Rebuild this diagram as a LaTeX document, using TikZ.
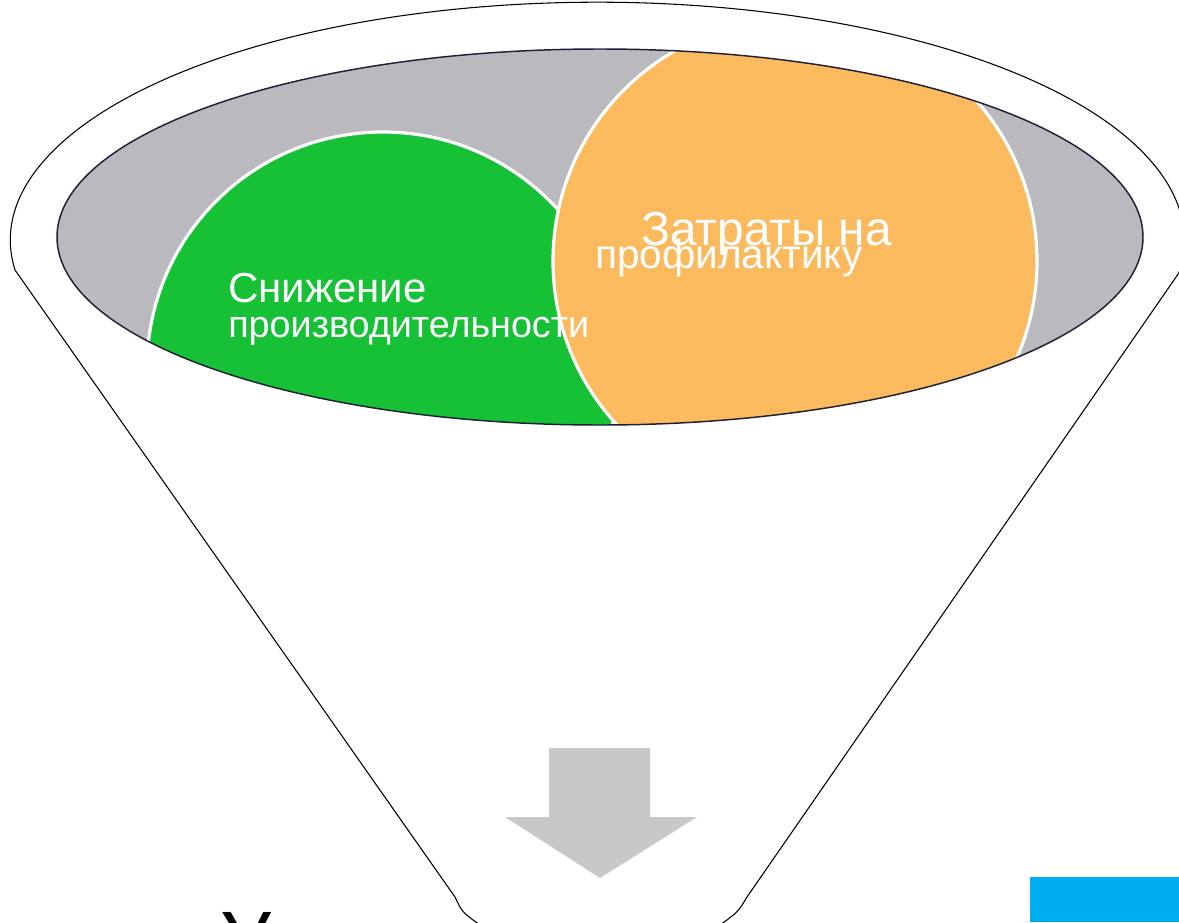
\documentclass[tikz,border=0pt]{standalone}
\usepackage{fontspec}
\setmainfont{Liberation Sans}
\definecolor{ringgray}{RGB}{185,185,190}
\definecolor{edgenavy}{RGB}{30,32,52}
\definecolor{leafgreen}{RGB}{22,193,54}
\definecolor{peach}{RGB}{251,186,94}
\definecolor{arrowgray}{RGB}{200,200,202}
\definecolor{skyblue}{RGB}{0,174,239}
\tikzset{
  funnelline/.style={draw=black, line width=0.8pt, fill=white},
  bubble/.style={draw=white, line width=2.4pt},
  lbl/.style={text=white, inner sep=0pt, anchor=base west},
}
\begin{document}
\begin{tikzpicture}[x=0.75pt,y=-0.75pt]
\useasboundingbox (0,0) rectangle (1179,922);
\clip (0,0) rectangle (1179,922);
% bottom text (cut off by the lower edge)
\node[inner sep=0pt, anchor=base west, font=\fontsize{60}{60}\selectfont] (t5) at (220,967) {Увеличение затрат};
% funnel outline
\draw[funnelline, fill=none] (15,270) arc[start angle=172.8, end angle=368, x radius=587, y radius=238]
  -- (747,897) .. controls (738,912) .. (720,925) -- (720,990) -- (480,990) -- (480,925)
  .. controls (462,912) .. (455,897) -- cycle;
% inner ellipse
\fill[ringgray] (600,237) ellipse[x radius=543, y radius=188];
\begin{scope}
  \clip (600,237) ellipse[x radius=543, y radius=188];
  \fill[leafgreen] (383,368) circle[radius=236];
  \draw[bubble] (383,368) circle[radius=236];
  \fill[peach] (795,261) circle[radius=242];
  \draw[bubble] (795,261) circle[radius=242];
\end{scope}
\draw[edgenavy, line width=1.1pt] (600,237) ellipse[x radius=543, y radius=188];
% labels
\node[lbl, font=\fontsize{31.5}{31.5}\selectfont] (t1) at (228,302) {Снижение};
\node[lbl, font=\fontsize{28.3}{28.3}\selectfont] (t2) at (228,337) {производительности};
\node[lbl, font=\fontsize{35.8}{35.8}\selectfont] (t3) at (641,245) {Затраты на};
\node[lbl, font=\fontsize{30.4}{30.4}\selectfont] (t4) at (595,268) {профилактику};
% arrow
\fill[arrowgray] (549,748) -- (650,748) -- (650,817) -- (697,817) -- (600,878) -- (505,817) -- (549,817) -- cycle;
% blue box
\fill[skyblue] (1030,877) rectangle (1179,922);
\end{tikzpicture}
\end{document}
